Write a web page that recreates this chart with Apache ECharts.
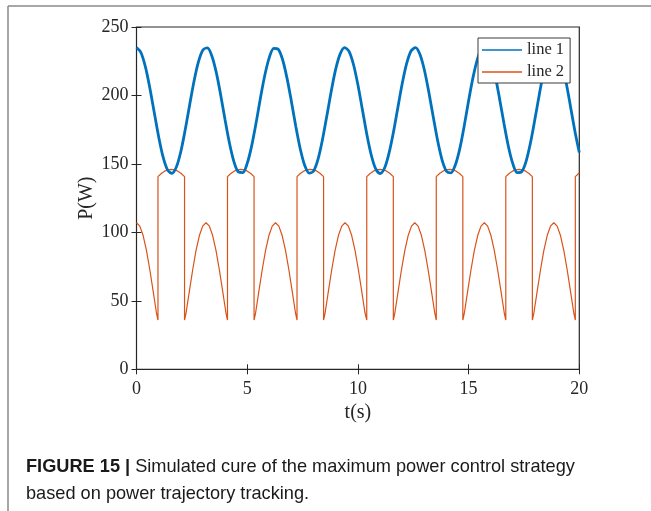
<!DOCTYPE html>
<html>
<head>
<meta charset="utf-8">
<script src="https://cdn.jsdelivr.net/npm/echarts@6/dist/echarts.min.js"></script>
<style>
html,body{margin:0;padding:0;background:#fff;}
#chart{width:651px;height:511px;}
</style>
</head>
<body>
<div id="chart"></div>
<script>
// ---- data ----
const xTicks = [0, 5, 10, 15, 20];
const yTicks = [0, 50, 100, 150, 200, 250];
const seriesNames = ['line 1', 'line 2'];

const line1Time = [
  0,0.2,0.4,0.6,0.8,1,1.2,1.4,1.6,1.8,
  2,2.2,2.4,2.6,2.8,3,3.2,3.4,3.6,3.8,
  4,4.2,4.4,4.6,4.8,5,5.2,5.4,5.6,5.8,
  6,6.2,6.4,6.6,6.8,7,7.2,7.4,7.6,7.8,
  8,8.2,8.4,8.6,8.8,9,9.2,9.4,9.6,9.8,
  10,10.2,10.4,10.6,10.8,11,11.2,11.4,11.6,11.8,
  12,12.2,12.4,12.6,12.8,13,13.2,13.4,13.6,13.8,
  14,14.2,14.4,14.6,14.8,15,15.2,15.4,15.6,15.8,
  16,16.2,16.4,16.6,16.8,17,17.2,17.4,17.6,17.8,
  18,18.2,18.4,18.6,18.8,19,19.2,19.4,19.6,19.8,
  20
];
const line1Power = [
  235,231.4,221.0,205.7,187.7,169.9,155.1,145.7,143.1,147.7,
  158.9,174.9,193.0,210.6,224.7,233.2,234.7,229.0,217.0,200.6,
  182.3,165.1,151.7,144.2,143.7,150.4,163.0,179.8,198.3,215.1,
  227.8,234.4,233.8,226.1,212.5,195.3,177.0,160.7,148.8,143.3,
  144.9,153.5,167.8,185.3,203.5,219.4,230.4,234.9,232.2,222.6,
  207.8,189.9,171.9,156.7,146.5,143.0,146.8,157.5,172.8,190.7,
  208.5,223.2,232.5,234.9,230.1,218.8,202.7,184.6,167.1,153.0,
  144.7,143.4,149.2,161.0,177.6,196.1,213.2,226.5,233.9,234.2,
  227.4,214.5,197.5,179.3,162.5,150.0,143.6,144.3,152.1,165.8,
  183.1,201.3,217.9,229.4,234.8,232.9,224.2,209.8,192.2,174.1,
  158.3
];

const line2Time = [
  0,0.15,0.3,0.45,0.6,0.75,0.9,0.97,
  0.97,1.12,1.27,1.42,1.57,1.72,1.87,2.02,2.17,
  2.17,2.24,2.39,2.54,2.69,2.84,2.99,3.14,3.29,3.44,3.59,3.74,3.89,4.04,4.11,
  4.11,4.26,4.41,4.56,4.71,4.86,5.01,5.16,5.31,
  5.31,5.38,5.53,5.68,5.83,5.98,6.13,6.28,6.43,6.58,6.73,6.88,7.03,7.18,7.25,
  7.25,7.40,7.55,7.70,7.85,8.00,8.15,8.30,8.45,
  8.45,8.52,8.67,8.82,8.97,9.12,9.27,9.42,9.57,9.72,9.87,10.02,10.17,10.32,10.40,
  10.40,10.55,10.70,10.85,11.00,11.15,11.30,11.45,11.60,
  11.60,11.67,11.82,11.97,12.12,12.27,12.42,12.57,12.72,12.87,13.02,13.17,13.32,13.47,13.54,
  13.54,13.69,13.84,13.99,14.14,14.29,14.44,14.59,14.74,
  14.74,14.81,14.96,15.11,15.26,15.41,15.56,15.71,15.86,16.01,16.16,16.31,16.46,16.61,16.68,
  16.68,16.83,16.98,17.13,17.28,17.43,17.58,17.73,17.88,
  17.88,17.95,18.10,18.25,18.40,18.55,18.70,18.85,19.00,19.15,19.30,19.45,19.60,19.75,19.82,
  19.82,19.97,20
];
const line2Power = [
  107,104.6,97.7,86.8,72.9,57.3,41.3,36,
  140.7,143.0,144.7,145.7,146,145.7,144.7,143.0,140.7,
  36,41.3,57.3,72.9,86.8,97.7,104.6,107,104.6,97.7,86.8,72.9,57.3,41.3,36,
  140.7,143.0,144.7,145.7,146,145.7,144.7,143.0,140.7,
  36,41.3,57.3,72.9,86.8,97.7,104.6,107,104.6,97.7,86.8,72.9,57.3,41.3,36,
  140.7,143.0,144.7,145.7,146,145.7,144.7,143.0,140.7,
  36,41.3,57.3,72.9,86.8,97.7,104.6,107,104.6,97.7,86.8,72.9,57.3,41.3,36,
  140.7,143.0,144.7,145.7,146,145.7,144.7,143.0,140.7,
  36,41.3,57.3,72.9,86.8,97.7,104.6,107,104.6,97.7,86.8,72.9,57.3,41.3,36,
  140.7,143.0,144.7,145.7,146,145.7,144.7,143.0,140.7,
  36,41.3,57.3,72.9,86.8,97.7,104.6,107,104.6,97.7,86.8,72.9,57.3,41.3,36,
  140.7,143.0,144.7,145.7,146,145.7,144.7,143.0,140.7,
  36,41.3,57.3,72.9,86.8,97.7,104.6,107,104.6,97.7,86.8,72.9,57.3,41.3,36,
  140.7,143.0,143.3
];

const xName = 't(s)';
const yName = 'P(W)';
const captionBold = 'FIGURE 15 |';
const captionLine1 = ' Simulated cure of the maximum power control strategy';
const captionLine2 = 'based on power trajectory tracking.';

// ---- chart ----
const zip = (a, b) => a.map((v, i) => [v, b[i]]);
const axisColor = '#262626';
const serif = '"Liberation Serif", "Times New Roman", serif';
const sans = '"Liberation Sans", Arial, sans-serif';

const chart = echarts.init(document.getElementById('chart'), null, {renderer: 'canvas'});
const xMin = xTicks[0], xMax = xTicks[xTicks.length - 1];
const yMin = yTicks[0], yMax = yTicks[yTicks.length - 1];
const xInt = xTicks[1] - xTicks[0], yInt = yTicks[1] - yTicks[0];

const baseX = {
  type: 'value', min: xMin, max: xMax, interval: xInt,
  axisLine: {show: false},
  axisTick: {show: true, inside: true, length: 5, lineStyle: {color: axisColor, width: 1}},
  splitLine: {show: false}
};
const baseY = {
  type: 'value', min: yMin, max: yMax, interval: yInt,
  axisLine: {show: false},
  axisTick: {show: true, inside: true, length: 5, lineStyle: {color: axisColor, width: 1}},
  splitLine: {show: false}
};

chart.setOption({
  animation: false,
  backgroundColor: '#fff',
  grid: {left: 136.5, top: 27, right: 71.7, bottom: 141.7, show: true,
         borderColor: axisColor, borderWidth: 1.2, backgroundColor: 'transparent', containLabel: false},
  xAxis: [
    Object.assign({}, baseX, {
      position: 'bottom',
      axisLabel: {show: true, color: axisColor, fontFamily: serif, fontSize: 18, margin: 11},
      name: xName, nameLocation: 'middle', nameGap: 33, nameMoveOverlap: false,
      nameTextStyle: {color: axisColor, fontFamily: serif, fontSize: 20}
    }),
    Object.assign({}, baseX, {position: 'top', axisLabel: {show: false}})
  ],
  yAxis: [
    Object.assign({}, baseY, {
      position: 'left',
      axisLabel: {show: true, color: axisColor, fontFamily: serif, fontSize: 18, margin: 8},
      name: yName, nameLocation: 'middle', nameGap: 40, nameMoveOverlap: false,
      nameTextStyle: {color: axisColor, fontFamily: serif, fontSize: 20}
    }),
    Object.assign({}, baseY, {position: 'right', axisLabel: {show: false}})
  ],
  legend: {
    data: seriesNames,
    orient: 'vertical',
    left: 478, top: 38,
    padding: [2, 6, 1, 4],
    itemGap: 2,
    icon: 'rect',
    itemWidth: 40, itemHeight: 1.4,
    backgroundColor: '#fff',
    borderColor: '#3a3a3a', borderWidth: 1, borderRadius: 0,
    textStyle: {color: '#262626', fontFamily: serif, fontSize: 16.5, lineHeight: 20}
  },
  series: [
    {
      name: seriesNames[1], type: 'line', data: zip(line2Time, line2Power),
      symbol: 'none', smooth: false,
      lineStyle: {color: '#D95319', width: 1.2},
      itemStyle: {color: '#D95319'}
    },
    {
      name: seriesNames[0], type: 'line', data: zip(line1Time, line1Power),
      symbol: 'none', smooth: 0.3,
      lineStyle: {color: '#0072BD', width: 2.8},
      itemStyle: {color: '#0072BD'}
    }
  ],
  graphic: [
    {type: 'line', shape: {x1: 8, y1: 6, x2: 8, y2: 511}, style: {stroke: '#8a8a8a', lineWidth: 1.5}, silent: true},
    {type: 'line', shape: {x1: 8, y1: 6, x2: 651, y2: 6}, style: {stroke: '#8a8a8a', lineWidth: 1.5}, silent: true},
    {
      type: 'text', left: 26, top: 458,
      style: {
        text: '{b|' + captionBold + '}{r|' + captionLine1 + '}\n{r|' + captionLine2 + '}',
        rich: {
          b: {fontFamily: sans, fontWeight: 'bold', fontSize: 18.2, fill: '#1a1a1a', lineHeight: 26.5},
          r: {fontFamily: sans, fontSize: 18.2, fill: '#1a1a1a', lineHeight: 26.5}
        }
      }
    }
  ]
});
</script>
</body>
</html>
